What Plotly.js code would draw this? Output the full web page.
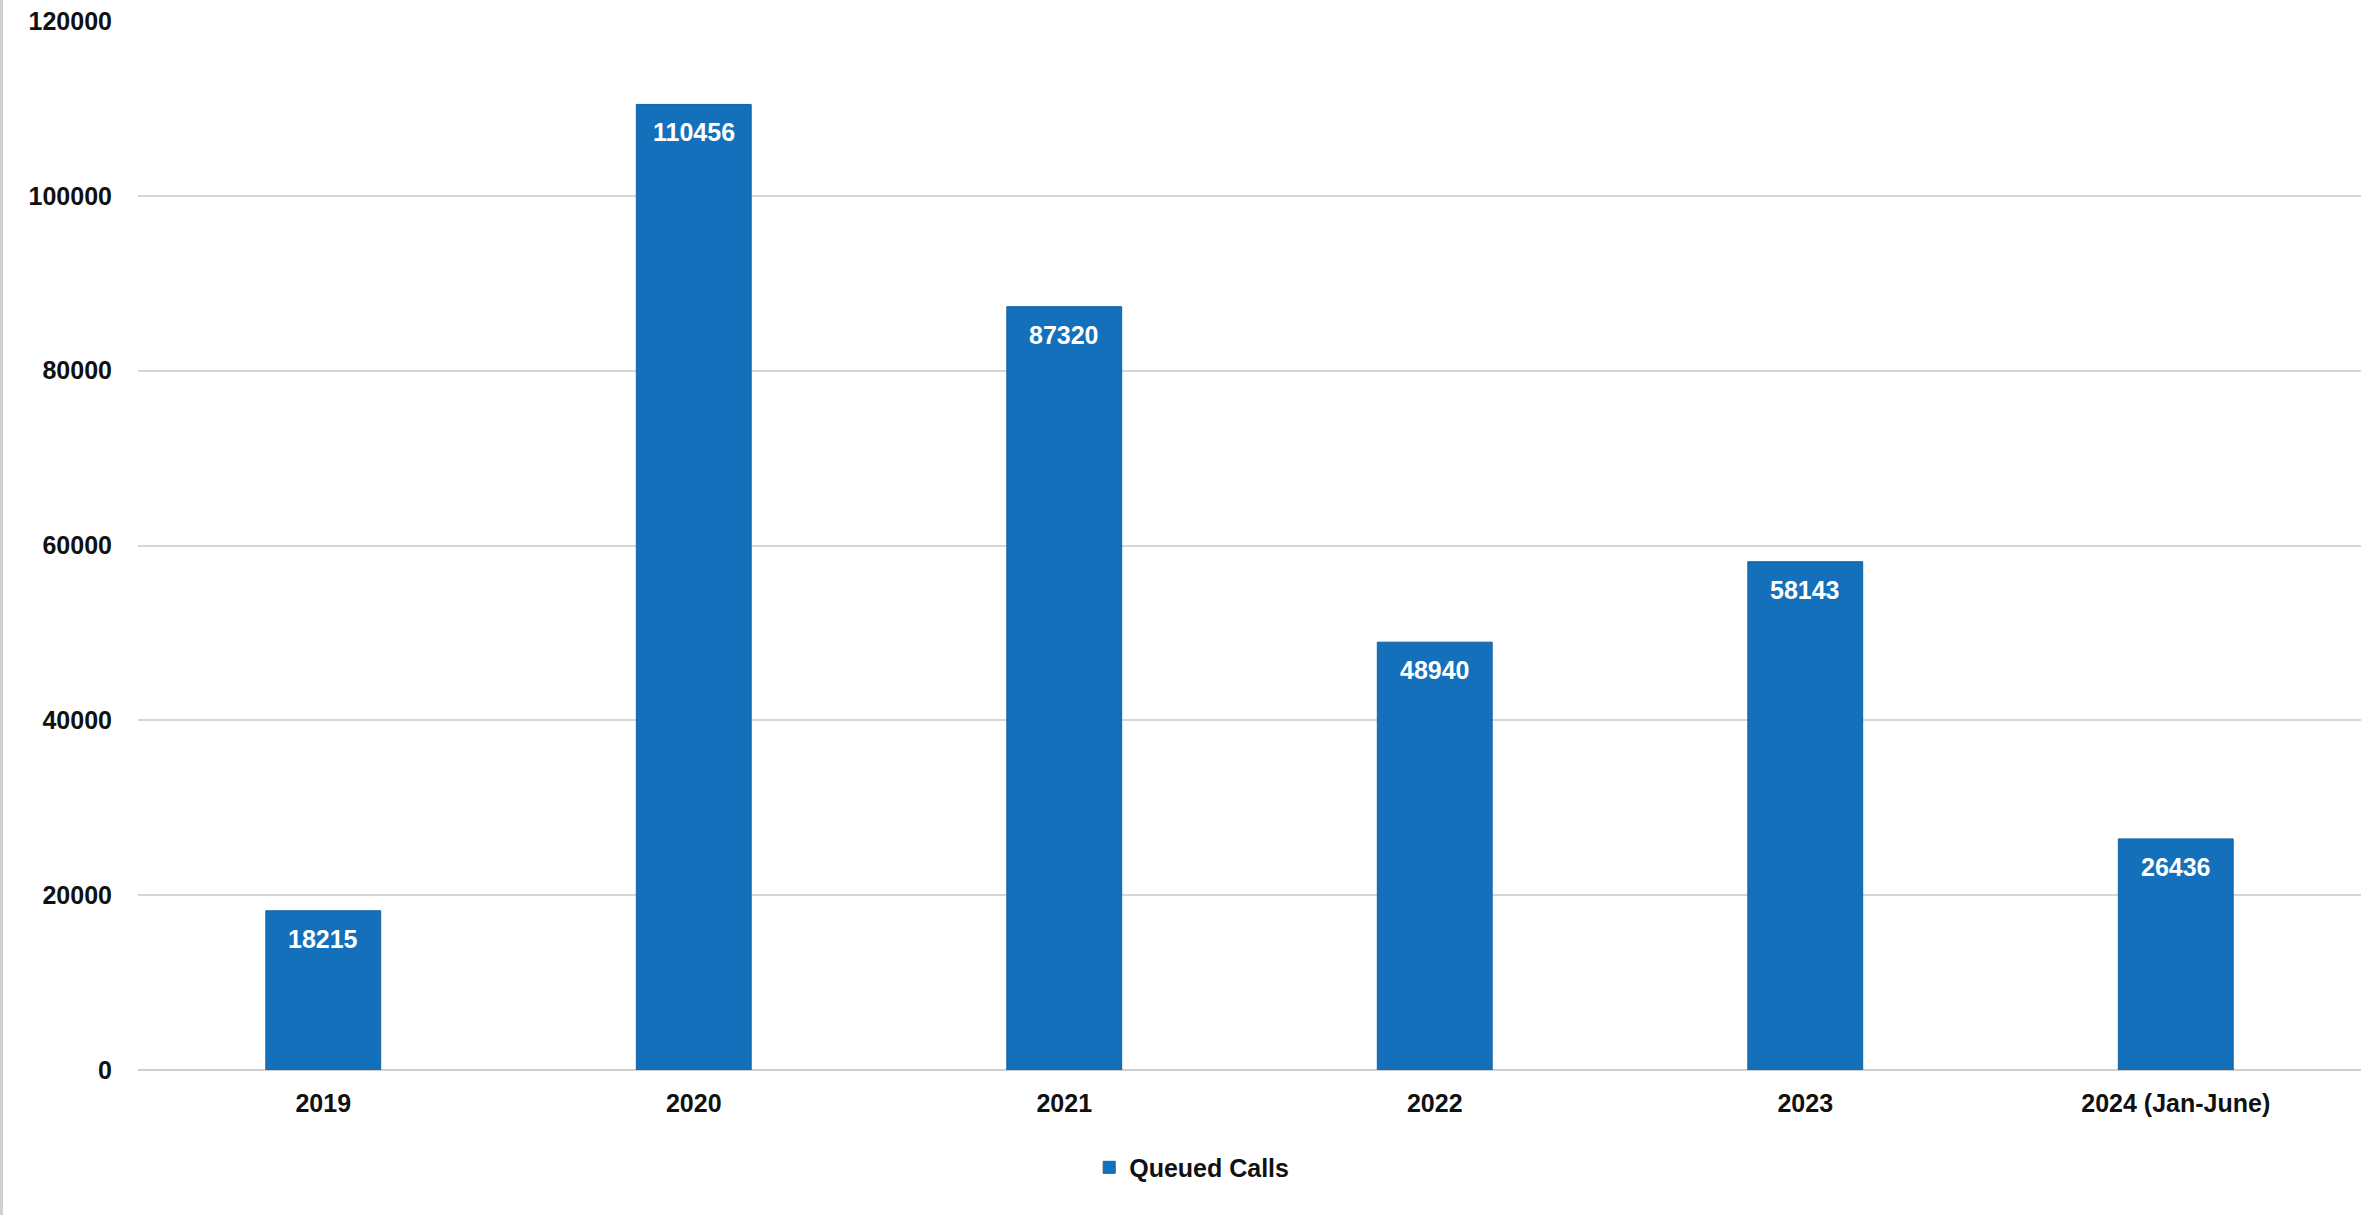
<!DOCTYPE html>
<html>
<head>
<meta charset="utf-8">
<script src="https://cdn.plot.ly/plotly-3.0.1.min.js"></script>
<style>
html,body{margin:0;padding:0;background:#fff;}
#chart{width:2361px;height:1215px;box-sizing:border-box;border-left:3px solid #d0d0d0;}
</style>
</head>
<body>
<div id="chart"></div>
<script>
const categories = ["2019", "2020", "2021", "2022", "2023", "2024 (Jan-June)"];
const queuedCalls = [18215, 110456, 87320, 48940, 58143, 26436];
const seriesName = "Queued Calls";
const yTicks = [0, 20000, 40000, 60000, 80000, 100000, 120000];

const FONT = "'Liberation Sans Narrow', 'Arial Narrow', 'Liberation Sans', Arial, sans-serif";
const BLUE = "#1470BB";

const trace = {
  type: "bar",
  x: categories,
  y: queuedCalls,
  name: seriesName,
  marker: {color: BLUE, line: {color: "#0F62A8", width: 1}},
  hoverinfo: "x+y",
  showlegend: true
};

const annotations = categories.map((c, i) => ({
  x: i, y: queuedCalls[i], xref: "x", yref: "y",
  text: String(queuedCalls[i]),
  showarrow: false, yanchor: "top", yshift: -12,
  font: {family: FONT, size: 25, color: "#ffffff", weight: "bold"}
}));

const layout = {
  width: 2358, height: 1215,
  margin: {l: 135, r: 0, t: 21, b: 145},
  paper_bgcolor: "#ffffff",
  plot_bgcolor: "#ffffff",
  bargap: 0.69,
  font: {family: FONT, size: 25, color: "#111111", weight: "bold"},
  xaxis: {
    type: "category",
    categoryorder: "array",
    categoryarray: categories,
    range: [-0.5, categories.length - 0.5],
    autorange: false,
    showgrid: false,
    showline: false,
    zeroline: false,
    ticks: "outside", ticklen: 11, tickcolor: "rgba(0,0,0,0)",
    tickfont: {family: FONT, size: 25, color: "#111111", weight: "bold"}
  },
  yaxis: {
    range: [0, 120000],
    autorange: false,
    tickvals: yTicks,
    ticktext: yTicks.map(String),
    showgrid: true, gridcolor: "#d6d6d6", gridwidth: 2,
    zeroline: true, zerolinecolor: "#d0d0d0", zerolinewidth: 2,
    showline: false,
    ticks: "outside", ticklen: 20, tickcolor: "rgba(0,0,0,0)",
    tickfont: {family: FONT, size: 25, color: "#111111", weight: "bold"}
  },
  legend: {
    orientation: "h", x: 0.474, xanchor: "center", y: -0.093, yanchor: "middle",
    font: {family: FONT, size: 25, color: "#111111", weight: "bold"},
    itemwidth: 30
  },
  annotations: annotations
};

Plotly.newPlot("chart", [trace], layout, {displayModeBar: false, responsive: false});
</script>
</body>
</html>
